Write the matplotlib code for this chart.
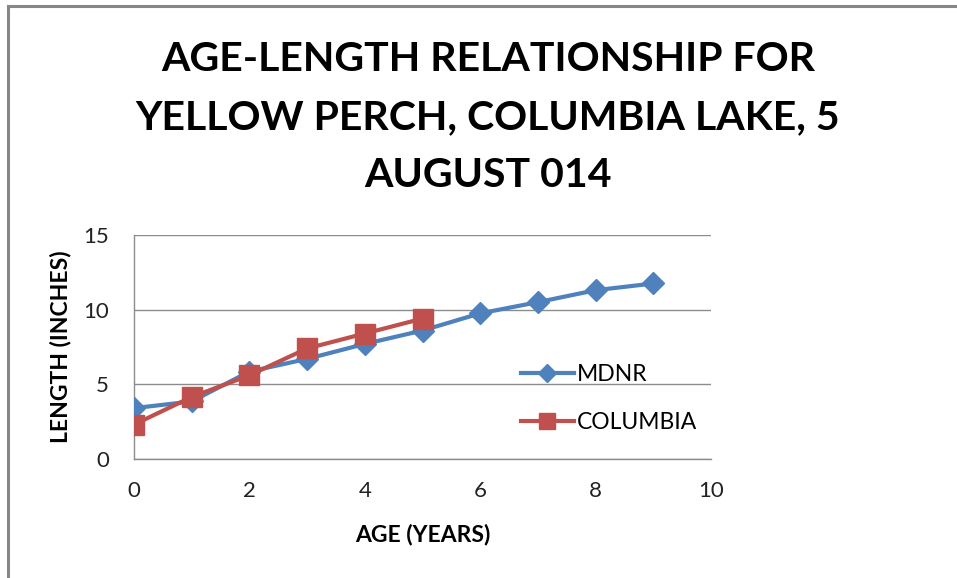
import matplotlib
matplotlib.use("Agg")
import matplotlib.pyplot as plt
from matplotlib.lines import Line2D

# Age (years) vs mean length (inches)
mdnr_age = [0, 1, 2, 3, 4, 5, 6, 7, 8, 9]
mdnr_len = [3.4, 3.85, 5.85, 6.7, 7.7, 8.6, 9.75, 10.5, 11.3, 11.75]
col_age = [0, 1, 2, 3, 4, 5]
col_len = [2.3, 4.15, 5.6, 7.4, 8.4, 9.4]

x_ticks = [0, 2, 4, 6, 8, 10]
y_ticks = [0, 5, 10, 15]

BLUE = "#4F81BD"
RED = "#C0504D"
FONT = "Lato"

fig = plt.figure(figsize=(9.57, 5.78), dpi=100)
ax = fig.add_axes([0.140, 0.206, 0.603, 0.3875])

# outer chart frame (top + left edges visible)
fig.add_artist(Line2D([0.008, 1.0], [0.990, 0.990], color="#878787", lw=2.2,
                      transform=fig.transFigure))
fig.add_artist(Line2D([0.008, 0.008], [0.0, 0.990], color="#878787", lw=2.2,
                      transform=fig.transFigure))

ax.plot(mdnr_age, mdnr_len, "-", color=BLUE, lw=3, marker="D", ms=11,
        mec=BLUE, mfc=BLUE, label="MDNR", zorder=3)
ax.plot(col_age, col_len, "-", color=RED, lw=3, marker="s", ms=14,
        mec=RED, mfc=RED, label="COLUMBIA", zorder=4)

ax.set_xlim(0, 10)
ax.set_ylim(0, 15)
ax.set_xticks(x_ticks)
ax.set_yticks(y_ticks)
ax.tick_params(length=0, labelsize=16, colors="#222222")
ax.tick_params(axis="x", pad=16)
ax.tick_params(axis="y", pad=18)
for lab in ax.get_xticklabels() + ax.get_yticklabels():
    lab.set_family(FONT)

ax.grid(axis="y", color="#8c8c8c", lw=1)
ax.set_axisbelow(True)
for s in ("top", "right"):
    ax.spines[s].set_visible(False)
for s in ("left", "bottom"):
    ax.spines[s].set_color("#8c8c8c")
    ax.spines[s].set_linewidth(1)

ax.set_xlabel("AGE (YEARS)", family=FONT, fontweight="bold", fontsize=16.5,
              labelpad=16)
ax.set_ylabel("LENGTH (INCHES)", family=FONT, fontweight="bold", fontsize=16.5)
ax.yaxis.set_label_coords(-0.108, 0.5)

fig.text(0.510, 0.797, "AGE-LENGTH RELATIONSHIP FOR\nYELLOW PERCH, COLUMBIA LAKE, 5\nAUGUST 014",
         ha="center", va="center", family=FONT, fontweight="bold", fontsize=29.5,
         linespacing=1.7)

leg = ax.legend(loc="center left", bbox_to_anchor=(0.635, 0.27), frameon=False,
                prop={"family": FONT, "size": 16.5}, handlelength=2.3,
                labelspacing=1.15, handletextpad=0.15, markerscale=0.85)

fig.savefig("out.png", dpi=100)
